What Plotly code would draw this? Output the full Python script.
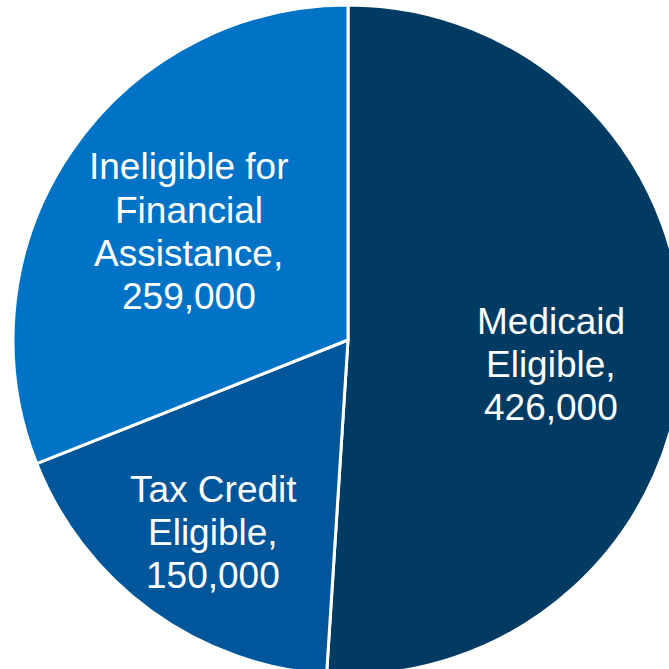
import plotly.graph_objects as go

labels = ["Medicaid Eligible", "Tax Credit Eligible", "Ineligible for Financial Assistance"]
values = [426000, 150000, 259000]
label_lines = [["Medicaid", "Eligible,"], ["Tax Credit", "Eligible,"],
               ["Ineligible for", "Financial", "Assistance,"]]
colors = ["#003B64", "#00569A", "#0073C6"]

# label block placement (pixels: center x, first-line center y)
label_pos = [(551, 321), (213, 489), (188.5, 167)]
line_gap = 43

W, H = 700, 700
cx, cy, r = 348, 340, 335

fig = go.Figure(go.Pie(
    labels=labels, values=values,
    textinfo="none",
    sort=False, direction="clockwise", rotation=0,
    marker=dict(colors=colors, line=dict(color="white", width=3)),
    domain=dict(x=[(cx - r) / W, (cx + r) / W], y=[(H - cy - r) / H, (H - cy + r) / H]),
    showlegend=False, hoverinfo="label+value",
))

for lines, v, (px, py) in zip(label_lines, values, label_pos):
    all_lines = lines + [f"{v:,}"]
    for i, t in enumerate(all_lines):
        fig.add_annotation(
            text=t, x=px / W, y=1 - (py + i * line_gap) / H,
            xref="paper", yref="paper", xanchor="center", yanchor="middle",
            showarrow=False,
            font=dict(family="Liberation Sans, Arial", size=37, color="white"),
        )

fig.update_layout(width=W, height=H, margin=dict(l=0, r=0, t=0, b=0),
                  paper_bgcolor="white", plot_bgcolor="white")
fig.write_html("out.html", config={"displayModeBar": False},
               post_script="document.body.style.margin='0';document.body.style.overflow='hidden';")
